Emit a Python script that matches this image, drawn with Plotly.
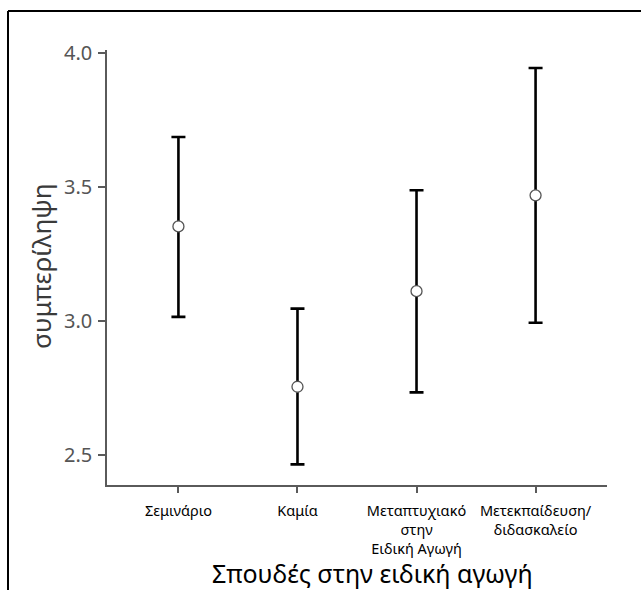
import plotly.graph_objects as go

categories = ["Σεμινάριο", "Καμία", "Μεταπτυχιακό<br>στην<br>Ειδική Αγωγή", "Μετεκπαίδευση/<br>διδασκαλείο"]
means = [3.354, 2.755, 3.112, 3.470]
upper = [3.688, 3.047, 3.489, 3.946]
lower = [3.016, 2.465, 2.734, 2.994]
y_ticks = [2.5, 3.0, 3.5, 4.0]
y_tick_labels = ["2.5", "3.0", "3.5", "4.0"]
x_title = "Σπουδές στην ειδική αγωγή"
y_title = "συμπερίληψη"

W, H = 641, 590
L, R, T, B = 107, 34, 50, 105
pw, ph = W - L - R, H - T - B

def px_x(p):
    return (p - L) / pw

def px_y(p):
    return (H - B - p) / ph

fig = go.Figure()
fig.add_trace(go.Scatter(
    x=categories, y=means, mode="markers",
    marker=dict(size=11, color="white", line=dict(color="#555555", width=1.3)),
    error_y=dict(type="data", symmetric=False,
                 array=[u - m for u, m in zip(upper, means)],
                 arrayminus=[m - l for m, l in zip(means, lower)],
                 color="black", thickness=2.6, width=7),
    showlegend=False,
))

font_family = "Noto Sans, Open Sans, DejaVu Sans, sans-serif"

fig.update_layout(
    width=W, height=H,
    margin=dict(l=L, r=R, t=T, b=B),
    plot_bgcolor="white", paper_bgcolor="white",
    font=dict(family=font_family),
    xaxis=dict(type="category", range=[-0.6, 3.6], showgrid=False, zeroline=False,
               showline=True, linecolor="#5a5a5a", linewidth=1.6,
               ticks="outside", ticklen=6, tickcolor="#5a5a5a", tickwidth=1.6,
               ticklabelstandoff=6,
               tickfont=dict(size=14.5, color="black"), automargin=False),
    yaxis=dict(range=[2.388, 4.013], showgrid=False, zeroline=False,
               showline=True, linecolor="#5a5a5a", linewidth=1.6,
               ticks="outside", ticklen=7, tickcolor="#5a5a5a", tickwidth=1.6,
               ticklabelstandoff=2,
               tickvals=y_ticks, ticktext=y_tick_labels,
               tickfont=dict(size=20, color="#555555"), automargin=False),
    annotations=[
        dict(text=x_title, xref="paper", yref="paper", x=px_x(372), y=px_y(573),
             showarrow=False, font=dict(size=25, color="black"),
             xanchor="center", yanchor="middle"),
        dict(text=y_title, xref="paper", yref="paper", x=px_x(41), y=px_y(266),
             showarrow=False, font=dict(size=26, color="#3a3a3a"), textangle=-90,
             xanchor="center", yanchor="middle"),
    ],
    shapes=[
        dict(type="line", xref="paper", yref="paper", x0=px_x(8), x1=px_x(W + 5),
             y0=px_y(11), y1=px_y(11), line=dict(color="black", width=2)),
        dict(type="line", xref="paper", yref="paper", x0=px_x(8), x1=px_x(8),
             y0=px_y(11), y1=px_y(H + 5), line=dict(color="black", width=2)),
    ],
)

fig.write_html("out.html")
